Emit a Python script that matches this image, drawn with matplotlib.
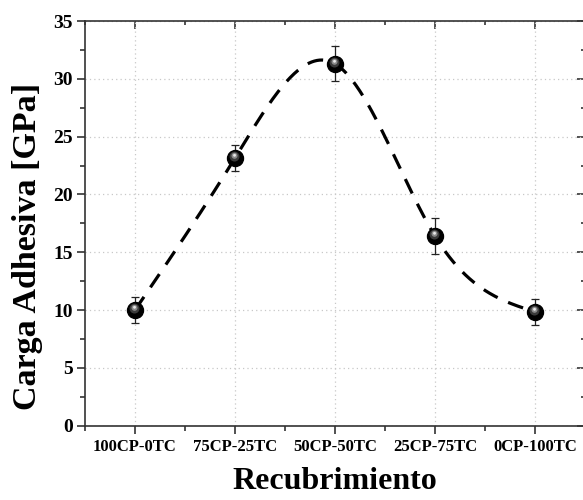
import numpy as np
import matplotlib
matplotlib.use('Agg')
import matplotlib.pyplot as plt
from matplotlib.markers import MarkerStyle
from matplotlib.transforms import Affine2D
from matplotlib.ticker import FixedLocator, MultipleLocator

# 字體設定
plt.rcParams['font.family'] = ['Liberation Serif', 'DejaVu Serif']
plt.rcParams['font.weight'] = 'bold'

# 資料
recubrimientos = ['100CP-0TC', '75CP-25TC', '50CP-50TC', '25CP-75TC', '0CP-100TC']
carga = [10.0, 23.15, 31.3, 16.4, 9.85]
error = [1.15, 1.15, 1.5, 1.55, 1.15]

x = np.arange(1, len(recubrimientos) + 1, dtype=float)
y = np.array(carga)


# natural cubic spline (sin scipy)
def spline_natural(xs, ys, xn):
    n = len(xs)
    h = np.diff(xs)
    A = np.zeros((n, n))
    b = np.zeros(n)
    A[0, 0] = 1
    A[-1, -1] = 1
    for i in range(1, n - 1):
        A[i, i - 1] = h[i - 1]
        A[i, i] = 2 * (h[i - 1] + h[i])
        A[i, i + 1] = h[i]
        b[i] = 6 * ((ys[i + 1] - ys[i]) / h[i] - (ys[i] - ys[i - 1]) / h[i - 1])
    M = np.linalg.solve(A, b)
    out = np.zeros_like(xn)
    for k, xv in enumerate(xn):
        i = min(np.searchsorted(xs, xv, side='right') - 1, n - 2)
        t = xv - xs[i]
        hi = h[i]
        a = (xs[i + 1] - xv) / hi
        bb = t / hi
        out[k] = (a * ys[i] + bb * ys[i + 1]
                  + ((a ** 3 - a) * M[i] + (bb ** 3 - bb) * M[i + 1]) * hi ** 2 / 6)
    return out


xs = np.linspace(x[0], x[-1], 300)
ys = spline_natural(x, y, xs)

fig = plt.figure(figsize=(5.83, 5.0), dpi=100)
ax = fig.add_axes([0.1458, 0.1486, 0.8576, 0.8094])

# 曲線
ax.plot(xs, ys, color='black', lw=2.3, linestyle=(0, (5, 3.6)), zorder=3)

# 誤差線
ax.errorbar(x, y, yerr=error, fmt='none', ecolor='#222222', elinewidth=0.9,
            capsize=3.2, capthick=0.9, zorder=4)

# 球形標記
ax.plot(x, y, 'o', ms=11.5, color='black', mec='black', zorder=5)
ax.plot(x, y, ls='none', marker=MarkerStyle('o', transform=Affine2D().scale(0.62).translate(-0.06, 0.12)),
        ms=11.5, color='#3a3a3a', mec='none', zorder=6)
ax.plot(x, y, ls='none', marker=MarkerStyle('o', transform=Affine2D().scale(0.38).translate(-0.06, 0.17)),
        ms=11.5, color='#8a8a8a', mec='none', zorder=7)
ax.plot(x, y, ls='none', marker=MarkerStyle('o', transform=Affine2D().scale(0.18).translate(-0.06, 0.2)),
        ms=11.5, color='#e8e8e8', mec='none', zorder=8)

ax.set_xlim(0.5, 5.5)
ax.set_ylim(0, 35)
ax.set_xticks(x)
ax.set_xticklabels(recubrimientos)
ax.xaxis.set_minor_locator(FixedLocator(np.append(x - 0.5, x[-1] + 0.5)))
ax.yaxis.set_major_locator(MultipleLocator(5))
ax.yaxis.set_minor_locator(MultipleLocator(2.5))

ax.grid(True, which='major', color='#c8c8c8', linestyle=(0, (1, 2.5)), lw=0.9)
ax.set_axisbelow(True)

for s in ax.spines.values():
    s.set_color('#333333')
    s.set_linewidth(1.2)

ax.tick_params(axis='both', which='major', direction='out', length=6, width=1.2,
               color='#333333', labelsize=14)
ax.tick_params(axis='both', which='minor', direction='out', length=3.5, width=1.2, color='#333333')
ax.tick_params(axis='x', which='major', pad=3.5, labelsize=12)
ax.tick_params(axis='y', which='major', pad=3)

# 上方與右方的刻度（向內）
top = ax.secondary_xaxis('top')
top.set_xticks(x)
top.xaxis.set_minor_locator(FixedLocator(np.append(x - 0.5, x[-1] + 0.5)))
top.tick_params(which='major', direction='in', length=5.5, width=1.2, color='#333333', labeltop=False)
top.tick_params(which='minor', direction='in', length=3, width=1.2, color='#333333')
top.spines['top'].set_visible(False)

right = ax.secondary_yaxis('right')
right.yaxis.set_major_locator(MultipleLocator(5))
right.yaxis.set_minor_locator(MultipleLocator(2.5))
right.tick_params(which='major', direction='in', length=5.5, width=1.2, color='#333333', labelright=False)
right.tick_params(which='minor', direction='in', length=3, width=1.2, color='#333333')
right.spines['right'].set_visible(False)

ax.set_xlabel('Recubrimiento', fontsize=23, fontweight='bold', labelpad=9)
ax.set_ylabel('Carga Adhesiva [GPa]', fontsize=24.5, fontweight='bold')
ax.yaxis.set_label_coords(-0.084, 0.443)

fig.savefig('out.png', dpi=100)
